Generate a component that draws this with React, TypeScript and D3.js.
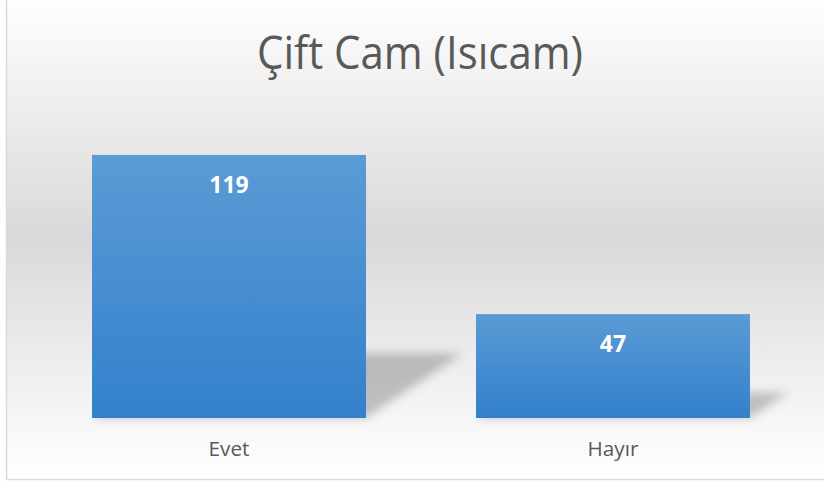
import React from "react";
import { scaleBand, scaleLinear } from "d3";

const categories = ["Evet", "Hayır"];
const values = [119, 47];
const title = "Çift Cam (Isıcam)";

const width = 824;
const height = 482;

export default function App() {
  const baseline = 418;
  const xScale = scaleBand<string>()
    .domain(categories)
    .range([37, 805])
    .paddingInner(0.2865)
    .paddingOuter(0.1433);

  const yScale = scaleLinear()
    .domain([0, 140])
    .range([baseline, baseline - 140 * 2.2105]);

  const bw = xScale.bandwidth();

  // perspective shadow cast to the upper right of each bar
  const shadows = categories.map((c, i) => {
    const x0 = xScale(c)!;
    const x1 = x0 + bw;
    const sh = (baseline - yScale(values[i])) * 0.245;
    const off = sh * 1.5;
    const pts = [
      [x0, baseline],
      [x1, baseline],
      [x1 + off, baseline - sh],
      [x0 + off, baseline - sh],
    ];
    return (
      <polygon
        key={"s" + c}
        points={pts.map((p) => p.join(",")).join(" ")}
        fill="#000"
        fillOpacity={0.22}
        filter="url(#blur)"
      />
    );
  });

  const bars = categories.map((c, i) => (
    <rect
      key={"b" + c}
      x={xScale(c)}
      y={yScale(values[i])}
      width={bw}
      height={baseline - yScale(values[i])}
      fill="url(#barGrad)"
    />
  ));

  const labels = categories.map((c, i) => (
    <text
      key={"l" + c}
      x={xScale(c)! + bw / 2}
      y={yScale(values[i]) + 38}
      textAnchor="middle"
      fill="#fff"
      fontWeight="bold"
      fontSize={23}
      fontFamily="'Open Sans', sans-serif"
    >
      {values[i]}
    </text>
  ));

  const ticks = categories.map((c) => (
    <text
      key={"t" + c}
      x={xScale(c)! + bw / 2}
      y={456}
      textAnchor="middle"
      fill="#595959"
      fontSize={20.7}
      fontFamily="'Open Sans', sans-serif"
    >
      {c}
    </text>
  ));

  return (
    <svg
      width={width}
      height={height}
      viewBox={`0 0 ${width} ${height}`}
      style={{ position: "absolute", left: 0, top: 0 }}
    >
      <defs>
        <linearGradient id="bgGrad" x1="0" y1="0" x2="0" y2="1">
          <stop offset="0" stopColor="#ffffff" />
          <stop offset="0.5" stopColor="#d9d9d9" />
          <stop offset="0.9" stopColor="#f8f8f8" />
          <stop offset="1" stopColor="#ffffff" />
        </linearGradient>
        <linearGradient id="barGrad" x1="0" y1="0" x2="0" y2="1">
          <stop offset="0" stopColor="#5b9bd5" />
          <stop offset="1" stopColor="#3380cc" />
        </linearGradient>
        <filter id="blur" x="-20%" y="-50%" width="140%" height="200%">
          <feGaussianBlur stdDeviation="5" />
        </filter>
      </defs>
      <rect x={0} y={0} width={width} height={height} fill="#fff" />
      <rect
        x={6.5}
        y={-5}
        width={width + 10}
        height={484.5}
        fill="url(#bgGrad)"
        stroke="#d9d9d9"
        strokeWidth={1.5}
      />
      <text
        x={420}
        y={69}
        textAnchor="middle"
        fill="#595959"
        fontSize={46}
        textLength={326}
        lengthAdjust="spacingAndGlyphs"
        fontFamily="'Open Sans', sans-serif"
      >
        {title}
      </text>
      {shadows}
      {bars}
      {labels}
      {ticks}
    </svg>
  );
}
